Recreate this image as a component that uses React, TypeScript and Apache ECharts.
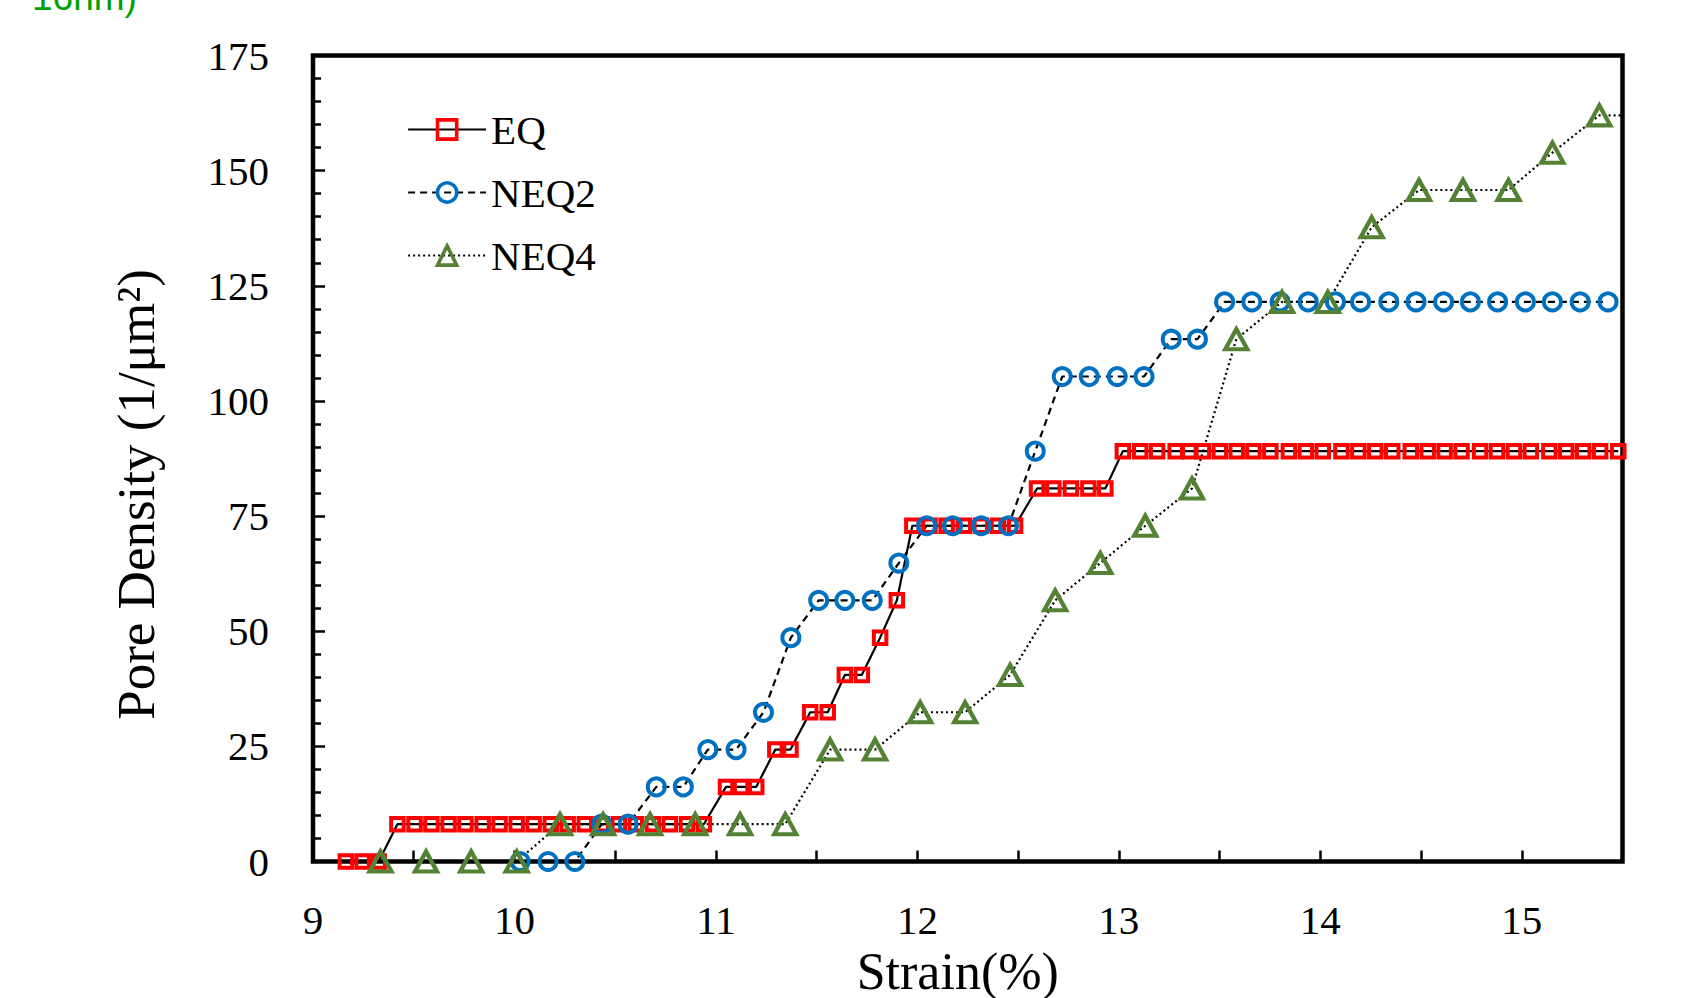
import React, { useEffect, useRef } from "react";
import * as echarts from "echarts";

const EQ_X = [9.163, 9.246, 9.326, 9.419, 9.504, 9.588, 9.673, 9.757, 9.842, 9.926, 10.011, 10.095, 10.18, 10.264, 10.349, 10.433, 10.518, 10.602, 10.687, 10.771, 10.856, 10.94, 11.05, 11.125, 11.2, 11.295, 11.37, 11.468, 11.555, 11.64, 11.724, 11.815, 11.898, 11.975, 12.06, 12.145, 12.23, 12.315, 12.4, 12.485, 12.594, 12.675, 12.762, 12.849, 12.933, 13.02, 13.106, 13.19, 13.282, 13.35, 13.417, 13.501, 13.585, 13.668, 13.752, 13.844, 13.928, 14.012, 14.105, 14.189, 14.273, 14.357, 14.449, 14.533, 14.617, 14.701, 14.793, 14.877, 14.961, 15.045, 15.137, 15.221, 15.305, 15.389, 15.479];
const EQ_Y = [0, 0, 0, 8.1, 8.1, 8.1, 8.1, 8.1, 8.1, 8.1, 8.1, 8.1, 8.1, 8.1, 8.1, 8.1, 8.1, 8.1, 8.1, 8.1, 8.1, 8.1, 16.2, 16.2, 16.2, 24.3, 24.3, 32.4, 32.4, 40.5, 40.5, 48.6, 56.7, 72.9, 72.9, 72.9, 72.9, 72.9, 72.9, 72.9, 81, 81, 81, 81, 81, 89.1, 89.1, 89.1, 89.1, 89.1, 89.1, 89.1, 89.1, 89.1, 89.1, 89.1, 89.1, 89.1, 89.1, 89.1, 89.1, 89.1, 89.1, 89.1, 89.1, 89.1, 89.1, 89.1, 89.1, 89.1, 89.1, 89.1, 89.1, 89.1, 89.1];

const NEQ2_X = [10.028, 10.167, 10.3, 10.433, 10.564, 10.704, 10.838, 10.96, 11.1, 11.236, 11.372, 11.51, 11.64, 11.776, 11.908, 12.046, 12.175, 12.317, 12.452, 12.585, 12.719, 12.853, 12.992, 13.125, 13.26, 13.39, 13.525, 13.66, 13.8, 13.94, 14.075, 14.2, 14.34, 14.475, 14.612, 14.745, 14.88, 15.018, 15.152, 15.29, 15.428];
const NEQ2_Y = [0, 0, 0, 8.1, 8.1, 16.2, 16.2, 24.3, 24.3, 32.4, 48.6, 56.7, 56.7, 56.7, 64.8, 72.9, 72.9, 72.9, 72.9, 89.1, 105.3, 105.3, 105.3, 105.3, 113.4, 113.4, 121.5, 121.5, 121.5, 121.5, 121.5, 121.5, 121.5, 121.5, 121.5, 121.5, 121.5, 121.5, 121.5, 121.5, 121.5];

const NEQ4_X = [9.335, 9.561, 9.785, 10.011, 10.226, 10.44, 10.673, 10.897, 11.12, 11.344, 11.567, 11.79, 12.014, 12.237, 12.46, 12.684, 12.908, 13.131, 13.363, 13.583, 13.81, 14.037, 14.255, 14.49, 14.708, 14.934, 15.152, 15.385, 15.61];
const NEQ4_Y = [0, 0, 0, 0, 8.1, 8.1, 8.1, 8.1, 8.1, 8.1, 24.3, 24.3, 32.4, 32.4, 40.5, 56.7, 64.8, 72.9, 81, 113.4, 121.5, 121.5, 137.7, 145.8, 145.8, 145.8, 153.9, 162, 162];

const SERIES_NAMES = ["EQ", "NEQ2", "NEQ4"];
const X_MIN = 9;
const X_MAX = 15.5;
const Y_MIN = 0;
const Y_MAX = 175;
const X_TITLE = "Strain(%)";
const Y_TITLE = "Pore Density (1/\u03bcm\u00b2)";
const CORNER_TEXT = "16nm)";

const pairs = (xs: number[], ys: number[]) => xs.map((x, i) => [x, ys[i]]);

const SERIF = "'Liberation Serif', 'Times New Roman', serif";

export default function App() {
  const ref = useRef<HTMLDivElement>(null);
  useEffect(() => {
    if (!ref.current) return;
    const chart = echarts.init(ref.current, undefined, { renderer: "svg" });
    const option: any = {
      animation: false,
      backgroundColor: "#ffffff",
      grid: {
        left: 313,
        right: 65.5,
        top: 55.5,
        bottom: 136.5,
        containLabel: false,
        outerBoundsMode: "none",
        show: true,
        borderColor: "#000",
        borderWidth: 4.5,
        backgroundColor: "transparent",
      },
      legend: {
        left: 402,
        top: 104,
        orient: "vertical",
        itemWidth: 78,
        itemHeight: 24,
        itemGap: 22,
        textStyle: { fontFamily: SERIF, fontSize: 41, color: "#000" },
        lineStyle: { width: 2.2 },
        itemStyle: { borderWidth: 3.6 },
        data: SERIES_NAMES,
      },
      graphic: [
        {
          type: "text",
          left: 32,
          top: -21,
          style: {
            text: CORNER_TEXT,
            fill: "#00a000",
            font: "37px 'Liberation Sans', Arial, sans-serif",
          },
        },
      ],
      xAxis: {
        type: "value",
        min: X_MIN,
        max: X_MAX,
        interval: 0.5,
        name: X_TITLE,
        nameLocation: "middle",
        nameGap: 82,
        nameTextStyle: {
          fontFamily: SERIF,
          fontSize: 52,
          lineHeight: 40,
          color: "#000",
          padding: [0, 20, 0, 0],
        },
        axisLine: { show: false },
        axisTick: { show: true, inside: true, length: 11, lineStyle: { color: "#000", width: 2.5 } },
        axisLabel: {
          margin: 38,
          fontFamily: SERIF,
          fontSize: 41,
          color: "#000",
          formatter: (v: number) => (Number.isInteger(v) ? String(v) : ""),
        },
        splitLine: { show: false },
      },
      yAxis: {
        type: "value",
        min: Y_MIN,
        max: Y_MAX,
        interval: 25,
        name: Y_TITLE,
        nameLocation: "middle",
        nameGap: 151,
        nameTextStyle: { fontFamily: SERIF, fontSize: 53, color: "#000", padding: [0, 72, 0, 0] },
        axisLine: { show: false },
        axisTick: { show: true, inside: true, length: 12, lineStyle: { color: "#000", width: 2.5 } },
        minorTick: { show: true, splitNumber: 5, length: 8, lineStyle: { color: "#000", width: 2.5 } },
        axisLabel: { margin: 44, fontFamily: SERIF, fontSize: 41, color: "#000" },
        splitLine: { show: false },
        minorSplitLine: { show: false },
      },
      series: [
        {
          name: SERIES_NAMES[0],
          type: "line",
          data: pairs(EQ_X, EQ_Y),
          symbol: "rect",
          symbolSize: 12.5,
          itemStyle: { color: "transparent", borderColor: "#ff0000", borderWidth: 4 },
          lineStyle: { color: "#000", width: 2.2, type: "solid" },
        },
        {
          name: SERIES_NAMES[1],
          type: "line",
          data: pairs(NEQ2_X, NEQ2_Y),
          symbol: "circle",
          symbolSize: 17,
          itemStyle: { color: "transparent", borderColor: "#0070c0", borderWidth: 4 },
          lineStyle: { color: "#000", width: 2.2, type: [7, 5] },
        },
        {
          name: SERIES_NAMES[2],
          type: "line",
          data: pairs(NEQ4_X, NEQ4_Y),
          symbol: "triangle",
          symbolSize: [22, 20],
          itemStyle: { color: "transparent", borderColor: "#548235", borderWidth: 4.2 },
          lineStyle: { color: "#000", width: 2.2, type: [2, 3] },
        },
      ],
    };
    chart.setOption(option);
    return () => chart.dispose();
  }, []);
  return (
    <div
      ref={ref}
      style={{ position: "fixed", left: 0, top: 0, width: 1688, height: 998, background: "#fff" }}
    />
  );
}
